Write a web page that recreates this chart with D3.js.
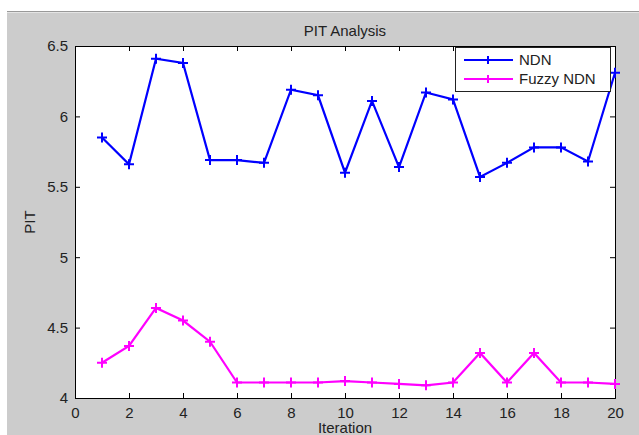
<!DOCTYPE html>
<html>
<head>
<meta charset="utf-8">
<script src="https://cdn.jsdelivr.net/npm/d3@7"></script>
<style>
body { margin: 0; background: #fff; }
text { font-family: "Liberation Sans", Arial, sans-serif; fill: #222; }
</style>
</head>
<body>
<script>
var w = 639;
var h = 435;

var iterations = [1, 2, 3, 4, 5, 6, 7, 8, 9, 10, 11, 12, 13, 14, 15, 16, 17, 18, 19, 20];
var ndn = [5.85, 5.66, 6.41, 6.38, 5.69, 5.69, 5.67, 6.19, 6.15, 5.60,
  6.11, 5.64, 6.17, 6.12, 5.57, 5.67, 5.78, 5.78, 5.68, 6.31];
var fuzzyNdn = [4.25, 4.37, 4.64, 4.55, 4.40, 4.11, 4.11, 4.11, 4.11, 4.12,
  4.11, 4.10, 4.09, 4.11, 4.32, 4.11, 4.32, 4.11, 4.11, 4.10];
var xTicks = [0, 2, 4, 6, 8, 10, 12, 14, 16, 18, 20];
var yTicks = [4, 4.5, 5, 5.5, 6, 6.5];
var seriesNames = ["NDN", "Fuzzy NDN"];
var seriesColors = ["#0000ff", "#ff00ff"];

// plot box (window.top is reserved, so use other names)
var pLeft = 75, pRight = 615, pTop = 46, pBottom = 398;

var svg = d3.select("body")
.append("svg")
.attr("width", w)
.attr("height", h);

// figure background
svg.append("rect")
.attr("x", 7).attr("y", 11)
.attr("width", w - 7).attr("height", h - 11)
.attr("fill", "#cccccc");
svg.append("line")
.attr("x1", 7).attr("x2", w).attr("y1", 11.5).attr("y2", 11.5)
.attr("stroke", "#999");
svg.append("line")
.attr("x1", 7).attr("x2", w).attr("y1", 12.5).attr("y2", 12.5)
.attr("stroke", "#e4e4e4");

var x = d3.scaleLinear().domain([0, 20]).range([pLeft, pRight]);
var y = d3.scaleLinear().domain([4, 6.5]).range([pBottom, pTop]);

// plot area
svg.append("rect")
.attr("x", pLeft).attr("y", pTop)
.attr("width", pRight - pLeft).attr("height", pBottom - pTop)
.attr("fill", "#fff");

function styleAxis(g) {
  g.select(".domain").attr("stroke", "#000");
  g.selectAll(".tick line").attr("stroke", "#000");
  g.selectAll("text")
  .attr("font-size", "15px")
  .attr("fill", "#222")
  .attr("font-family", "Liberation Sans, Arial, sans-serif");
}

// axes (inner ticks, MATLAB style)
var fmt = d3.format("");
svg.append("g")
.attr("transform", "translate(0," + pBottom + ")")
.call(d3.axisBottom(x).tickValues(xTicks).tickSize(-5).tickPadding(9).tickFormat(fmt))
.call(styleAxis);
svg.append("g")
.attr("transform", "translate(0," + pTop + ")")
.call(d3.axisTop(x).tickValues(xTicks).tickSize(-5).tickFormat(""))
.call(styleAxis);
svg.append("g")
.attr("transform", "translate(" + pLeft + ",0)")
.call(d3.axisLeft(y).tickValues(yTicks).tickSize(-5).tickPadding(7).tickFormat(fmt))
.call(styleAxis);
svg.append("g")
.attr("transform", "translate(" + pRight + ",0)")
.call(d3.axisRight(y).tickValues(yTicks).tickSize(-5).tickFormat(""))
.call(styleAxis);

// series
var allSeries = [ndn, fuzzyNdn];
var line = d3.line()
.x(function(d, i) { return x(iterations[i]); })
.y(function(d) { return y(d); });

allSeries.forEach(function(vals, s) {
  svg.append("path")
  .attr("d", line(vals))
  .attr("fill", "none")
  .attr("stroke", seriesColors[s])
  .attr("stroke-width", 2.2);

  svg.append("g").selectAll("path")
  .data(vals)
  .enter()
  .append("path")
  .attr("d", function(d, i) {
    var cx = x(iterations[i]), cy = y(d);
    return "M" + (cx - 5) + "," + cy + "H" + (cx + 5) + "M" + cx + "," + (cy - 5) + "V" + (cy + 5);
  })
  .attr("stroke", seriesColors[s])
  .attr("stroke-width", 2);
});

// titles
svg.append("text")
.text("PIT Analysis")
.attr("x", (pLeft + pRight) / 2)
.attr("y", 36)
.attr("text-anchor", "middle")
.attr("font-size", "15px");

svg.append("text")
.text("Iteration")
.attr("x", (pLeft + pRight) / 2)
.attr("y", 433)
.attr("text-anchor", "middle")
.attr("font-size", "15px");

svg.append("text")
.text("PIT")
.attr("transform", "translate(35," + ((pTop + pBottom) / 2) + ") rotate(-90)")
.attr("text-anchor", "middle")
.attr("font-size", "15px");

// legend
var legend = svg.append("g");
legend.append("rect")
.attr("x", 455.5).attr("y", 47.5)
.attr("width", 155).attr("height", 44)
.attr("fill", "#fff")
.attr("stroke", "#222");

legend.selectAll("g")
.data(seriesNames)
.enter()
.append("g")
.each(function(d, i) {
  var g = d3.select(this);
  var ly = 60 + i * 19;
  g.append("line")
  .attr("x1", 464).attr("x2", 513)
  .attr("y1", ly).attr("y2", ly)
  .attr("stroke", seriesColors[i])
  .attr("stroke-width", 2.2);
  g.append("path")
  .attr("d", "M488," + (ly - 4) + "V" + (ly + 4))
  .attr("stroke", seriesColors[i])
  .attr("stroke-width", 2);
  g.append("text")
  .text(d)
  .attr("x", 519)
  .attr("y", ly + 5)
  .attr("font-size", "15px");
});
</script>
</body>
</html>
